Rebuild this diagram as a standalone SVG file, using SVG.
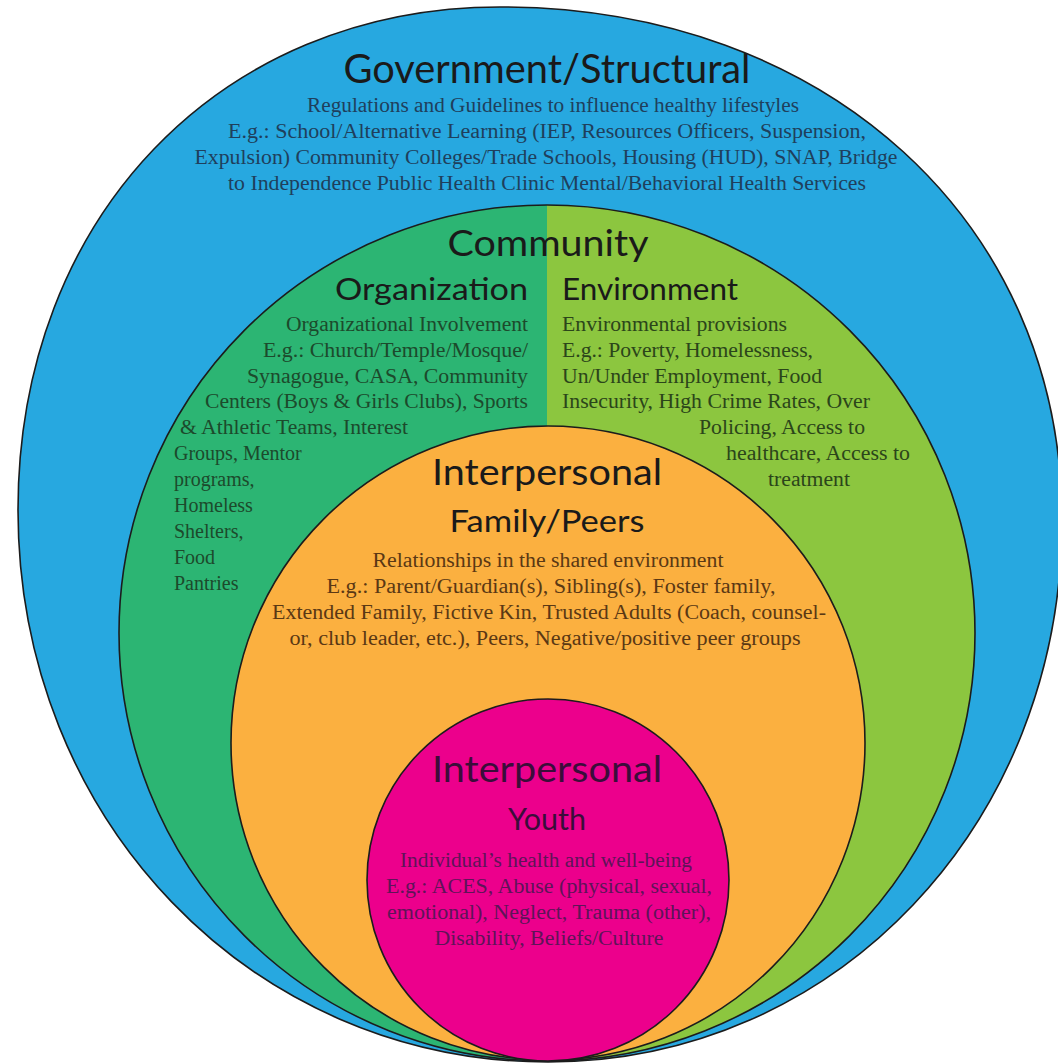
<svg xmlns="http://www.w3.org/2000/svg" width="1058" height="1063" viewBox="0 0 1058 1063">
<style>
.ring{stroke:#1c1c1c;stroke-width:1.6}
.h{font-family:Lato,"Noto Sans",sans-serif;fill:#1a1a1a}
.b{font-family:"Liberation Serif","Times New Roman",serif;font-size:20px}
.blue{fill:#1f3f5c}
.org{fill:#1c4a2c}
.env{fill:#2b451a}
.fam{fill:#5a3814}
.you{fill:#5e1458}
.c{text-anchor:middle}
.r{text-anchor:end}
</style>
<rect width="1058" height="1063" fill="#ffffff"/>
<g id="node-government">
<path class="ring" fill="#27a8e0" d="M500 7 C826 7 1062 222 1062 520 C1062 824 836 1062 548 1062 C251 1062 18 819 18 510 C18 218 220 7 500 7 Z"/>
<text class="h c" x="547" y="83" font-size="40" textLength="407" lengthAdjust="spacingAndGlyphs">Government/Structural</text>
<text class="b blue c" x="553" y="112" textLength="492" lengthAdjust="spacingAndGlyphs">Regulations and Guidelines to influence healthy lifestyles</text>
<text class="b blue c" x="547" y="138" textLength="638" lengthAdjust="spacingAndGlyphs">E.g.: School/Alternative Learning (IEP, Resources Officers, Suspension,</text>
<text class="b blue c" x="546" y="164" textLength="703" lengthAdjust="spacingAndGlyphs">Expulsion) Community Colleges/Trade Schools, Housing (HUD), SNAP, Bridge</text>
<text class="b blue c" x="547" y="190" textLength="638" lengthAdjust="spacingAndGlyphs">to Independence Public Health Clinic Mental/Behavioral Health Services</text>
</g>
<g id="node-community">
<path fill="#2cb573" d="M547 205 A428 428 0 0 0 547 1061 Z"/>
<path fill="#8cc63f" d="M547 205 A428 428 0 0 1 547 1061 Z"/>
<circle class="ring" cx="547" cy="633" r="428" fill="none"/>
<text class="h c" x="548" y="256" font-size="36" textLength="201" lengthAdjust="spacingAndGlyphs">Community</text>
</g>
<g id="node-organization">
<text class="h r" x="528" y="300" font-size="30" textLength="193" lengthAdjust="spacingAndGlyphs">Organization</text>
<text class="b org r" x="528" y="331" textLength="242" lengthAdjust="spacingAndGlyphs">Organizational Involvement</text>
<text class="b org r" x="528" y="357" textLength="265" lengthAdjust="spacingAndGlyphs">E.g.: Church/Temple/Mosque/</text>
<text class="b org r" x="528" y="383" textLength="281" lengthAdjust="spacingAndGlyphs">Synagogue, CASA, Community</text>
<text class="b org r" x="528" y="408" textLength="323" lengthAdjust="spacingAndGlyphs">Centers (Boys &amp; Girls Clubs), Sports</text>
<text class="b org" x="180" y="434" textLength="228" lengthAdjust="spacingAndGlyphs">&amp; Athletic Teams, Interest</text>
<text class="b org" x="174" y="460">Groups, Mentor</text>
<text class="b org" x="174" y="486">programs,</text>
<text class="b org" x="174" y="512">Homeless</text>
<text class="b org" x="174" y="538">Shelters,</text>
<text class="b org" x="174" y="564">Food</text>
<text class="b org" x="174" y="590">Pantries</text>
</g>
<g id="node-environment">
<text class="h" x="562" y="300" font-size="30" textLength="176" lengthAdjust="spacingAndGlyphs">Environment</text>
<text class="b env" x="562" y="331" textLength="225" lengthAdjust="spacingAndGlyphs">Environmental provisions</text>
<text class="b env" x="562" y="357" textLength="251" lengthAdjust="spacingAndGlyphs">E.g.: Poverty, Homelessness,</text>
<text class="b env" x="562" y="383" textLength="260" lengthAdjust="spacingAndGlyphs">Un/Under Employment, Food</text>
<text class="b env" x="562" y="408" textLength="308" lengthAdjust="spacingAndGlyphs">Insecurity, High Crime Rates, Over</text>
<text class="b env" x="699" y="434" textLength="166" lengthAdjust="spacingAndGlyphs">Policing, Access to</text>
<text class="b env" x="726" y="460" textLength="184" lengthAdjust="spacingAndGlyphs">healthcare, Access to</text>
<text class="b env" x="768" y="486" textLength="82" lengthAdjust="spacingAndGlyphs">treatment</text>
</g>
<g id="node-family">
<circle class="ring" cx="548" cy="743" r="317" fill="#fbb040"/>
<text class="h c" x="547" y="485" font-size="37" textLength="230" lengthAdjust="spacingAndGlyphs">Interpersonal</text>
<text class="h c" x="547" y="532" font-size="30" textLength="195" lengthAdjust="spacingAndGlyphs">Family/Peers</text>
<text class="b fam c" x="548" y="567" textLength="351" lengthAdjust="spacingAndGlyphs">Relationships in the shared environment</text>
<text class="b fam c" x="551" y="593" textLength="449" lengthAdjust="spacingAndGlyphs">E.g.: Parent/Guardian(s), Sibling(s), Foster family,</text>
<text class="b fam c" x="549" y="619" textLength="554" lengthAdjust="spacingAndGlyphs">Extended Family, Fictive Kin, Trusted Adults (Coach, counsel-</text>
<text class="b fam c" x="545" y="645" textLength="511" lengthAdjust="spacingAndGlyphs">or, club leader, etc.), Peers, Negative/positive peer groups</text>
</g>
<g id="node-youth">
<circle class="ring" cx="548" cy="880" r="181" fill="#ec008c"/>
<text class="h c" x="547" y="782" font-size="37" textLength="230" lengthAdjust="spacingAndGlyphs" style="fill:#3b0d3a">Interpersonal</text>
<text class="h c" x="547" y="830" font-size="30" textLength="78" lengthAdjust="spacingAndGlyphs" style="fill:#3b0d3a">Youth</text>
<text class="b you c" x="546" y="867" textLength="292" lengthAdjust="spacingAndGlyphs">Individual’s health and well-being</text>
<text class="b you c" x="549" y="893" textLength="326" lengthAdjust="spacingAndGlyphs">E.g.: ACES, Abuse (physical, sexual,</text>
<text class="b you c" x="549" y="919" textLength="324" lengthAdjust="spacingAndGlyphs">emotional), Neglect, Trauma (other),</text>
<text class="b you c" x="549" y="945" textLength="229" lengthAdjust="spacingAndGlyphs">Disability, Beliefs/Culture</text>
</g>
<g id="connectors"/>
</svg>
